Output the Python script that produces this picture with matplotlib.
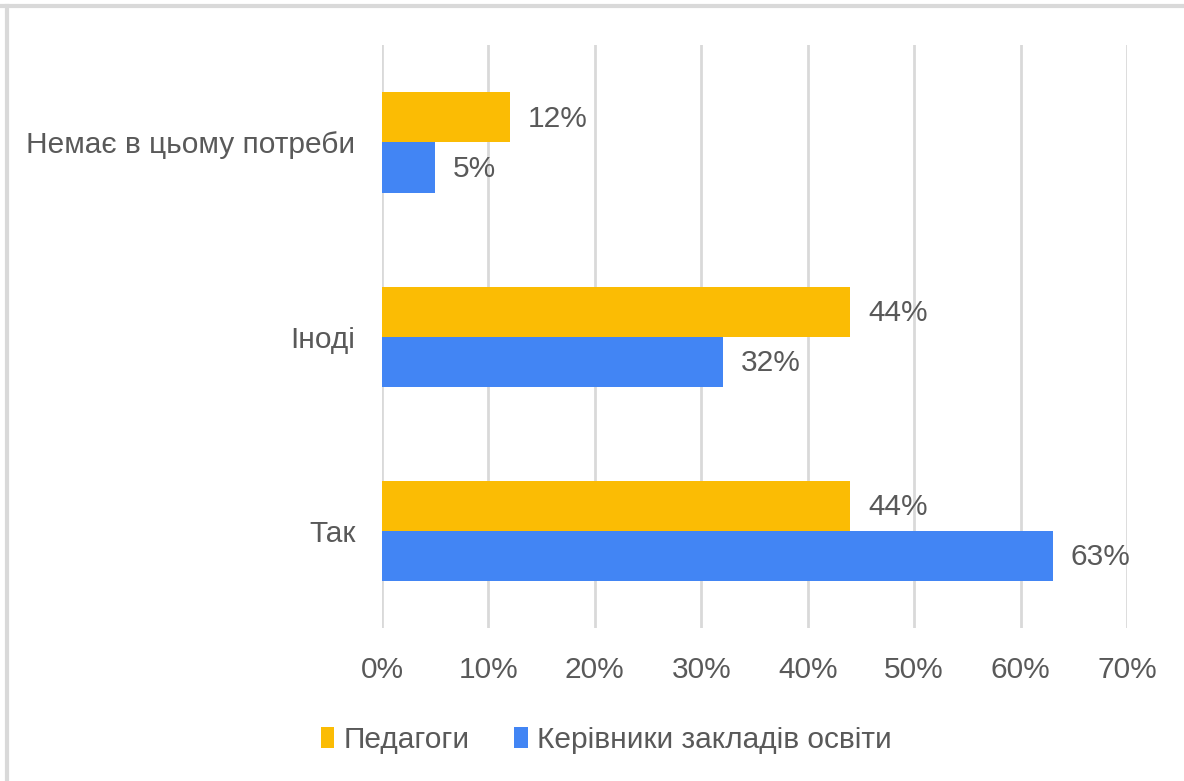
import matplotlib.pyplot as plt
from matplotlib.lines import Line2D
import numpy as np

categories = ['Так', 'Іноді', 'Немає в цьому потреби']
pedagogy = [44, 44, 12]
managers = [63, 32, 5]
series_names = ['Педагоги', 'Керівники закладів освіти']
xticks = [0, 10, 20, 30, 40, 50, 60, 70]

plt.rcParams['font.family'] = ['Liberation Sans', 'DejaVu Sans']
text_color = '#595959'
yellow = '#FBBC04'
blue = '#4285F4'
fs = 21.5

fig = plt.figure(figsize=(11.84, 7.81), dpi=100)
ax = fig.add_axes([0.3226, 0.196, 0.6293, 0.746])

y = np.arange(len(categories))
h = 0.258
b1 = ax.barh(y + h / 2, pedagogy, height=h, color=yellow, label=series_names[0], zorder=3)
b2 = ax.barh(y - h / 2, managers, height=h, color=blue, label=series_names[1], zorder=3)

for bars, vals in ((b1, pedagogy), (b2, managers)):
    for bar, v in zip(bars, vals):
        ax.annotate(f'{v}%', (bar.get_width(), bar.get_y() + bar.get_height() / 2),
                    xytext=(13, -1), textcoords='offset points', va='center', ha='left',
                    fontsize=fs, color=text_color)

ax.set_xlim(0, 70)
ax.set_ylim(-0.5, 2.5)
ax.set_xticks(xticks)
ax.set_xticklabels([f'{t}%' for t in xticks])
ax.set_yticks(y)
ax.set_yticklabels(categories)
ax.tick_params(axis='x', length=0, pad=20, labelsize=fs, labelcolor=text_color)
ax.tick_params(axis='y', length=0, pad=19, labelsize=fs, labelcolor=text_color)
ax.grid(axis='x', color='#d9d9d9', linewidth=2, zorder=0)
for s in ax.spines.values():
    s.set_visible(False)

fig.legend(handles=[b1, b2], labels=series_names, loc='center', bbox_to_anchor=(0.512, 0.052),
           ncol=2, frameon=False, fontsize=fs, handlelength=0.45, handleheight=0.7,
           handletextpad=0.3, columnspacing=1.5, labelcolor=text_color)

# outer frame lines
fig.add_artist(Line2D([0, 1], [0.9925, 0.9925], color='#d9d9d9', linewidth=3, transform=fig.transFigure))
fig.add_artist(Line2D([0.0055, 0.0055], [0, 0.9925], color='#d9d9d9', linewidth=3, transform=fig.transFigure))

fig.savefig('out.png', dpi=100)
